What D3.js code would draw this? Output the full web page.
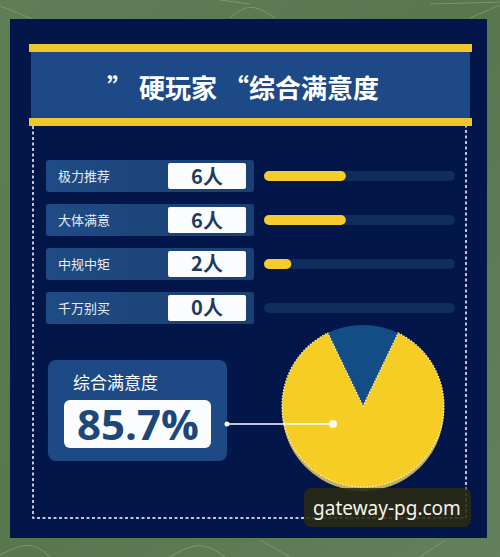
<!DOCTYPE html>
<html>
<head>
<meta charset="utf-8">
<script src="https://cdn.jsdelivr.net/npm/d3@7"></script>
<style>
  html, body { margin: 0; padding: 0; background: #5d7b57; }
  svg { display: block; }
</style>
</head>
<body>
<svg id="chart" width="500" height="557"></svg>
<script>
// data
const categories = ["极力推荐", "大体满意", "中规中矩", "千万别买"];
const counts = [6, 6, 2, 0];
const countUnit = "人";
const totalPeople = 14;
const satisfaction = [85.7, 14.3]; // satisfied / rest
const titleText = "” 硬玩家 “综合满意度";
const summaryLabel = "综合满意度";
const summaryValue = "85.7%";
const watermark = "gateway-pg.com";

const svg = d3.select("#chart");
const W = 500, H = 557;
const cjk = "'Noto Sans CJK SC', 'Noto Sans', sans-serif";

// background texture
const defs = svg.append("defs");
const bgGrad = defs.append("linearGradient").attr("id", "bg").attr("x1", 0).attr("y1", 0).attr("x2", 1).attr("y2", 1);
bgGrad.append("stop").attr("offset", "0%").attr("stop-color", "#5f7d57");
bgGrad.append("stop").attr("offset", "50%").attr("stop-color", "#58774f");
bgGrad.append("stop").attr("offset", "100%").attr("stop-color", "#62805c");
svg.append("rect").attr("width", W).attr("height", H).attr("fill", "url(#bg)");

const bgLines = [
  [[0, 6], [40, 22]], [[220, 0], [250, 4]], [[230, 18], [250, 2], [275, 18]],
  [[430, 4], [500, 2]], [[470, 18], [500, 5]], [[0, 555], [30, 540], [50, 557]],
  [[170, 557], [200, 540], [225, 557]], [[260, 540], [290, 557]], [[420, 557], [445, 540]]
];
svg.append("g")
  .selectAll("path")
  .data(bgLines)
  .join("path")
  .attr("d", d => d3.line().curve(d3.curveBasis)(d))
  .attr("fill", "none")
  .attr("stroke", "#a9b98f")
  .attr("stroke-opacity", 0.45)
  .attr("stroke-width", 1);

// main dark panel
svg.append("rect")
  .attr("x", 10).attr("y", 19).attr("width", 477).attr("height", 519)
  .attr("fill", "#03164a");

// title band
svg.append("rect").attr("x", 29).attr("y", 44).attr("width", 443).attr("height", 8).attr("fill", "#f2c72b");
svg.append("rect").attr("x", 31).attr("y", 52).attr("width", 439).attr("height", 66).attr("fill", "#1d4a86");
svg.append("rect").attr("x", 29).attr("y", 118).attr("width", 443).attr("height", 8).attr("fill", "#f2c72b");
svg.append("text")
  .attr("x", 243).attr("y", 98)
  .attr("text-anchor", "middle")
  .attr("font-family", cjk)
  .attr("font-weight", 700)
  .attr("font-size", 26)
  .attr("fill", "#ffffff")
  .text(titleText);

// dashed frame
svg.append("path")
  .attr("d", "M33,126 V518 H466 V126")
  .attr("fill", "none")
  .attr("stroke", "#ffffff")
  .attr("stroke-width", 1.5)
  .attr("stroke-dasharray", "3,2.5");

// rows
const y = d3.scaleBand().domain(categories).range([160, 324]).paddingInner(0.27);
const x = d3.scaleLinear().domain([0, totalPeople]).range([264, 455]);

const lblGrad = defs.append("linearGradient").attr("id", "lbl");
lblGrad.append("stop").attr("offset", "0%").attr("stop-color", "#1f4b84");
lblGrad.append("stop").attr("offset", "100%").attr("stop-color", "#1a3f73");

const rows = svg.append("g")
  .selectAll("g")
  .data(categories.map((c, i) => ({ name: c, value: counts[i] })))
  .join("g")
  .attr("transform", d => `translate(0,${y(d.name)})`);

const bh = y.bandwidth();

rows.append("rect")
  .attr("x", 46).attr("width", 208).attr("height", bh).attr("rx", 3)
  .attr("fill", "url(#lbl)");

rows.append("text")
  .attr("x", 58).attr("y", bh / 2 + 5)
  .attr("font-family", cjk)
  .attr("font-size", 13)
  .attr("fill", "#e6edf7")
  .text(d => d.name);

rows.append("rect")
  .attr("x", 168).attr("y", 3).attr("width", 78).attr("height", bh - 6).attr("rx", 2)
  .attr("fill", "#fbfcfd");

rows.append("text")
  .attr("x", 207).attr("y", bh / 2 + 7.5)
  .attr("text-anchor", "middle")
  .attr("font-family", cjk)
  .attr("font-weight", 700)
  .attr("font-size", 20)
  .attr("fill", "#1d3a60")
  .text(d => d.value + countUnit);

rows.append("rect")
  .attr("x", x(0)).attr("y", bh / 2 - 5)
  .attr("width", x(totalPeople) - x(0)).attr("height", 10).attr("rx", 5)
  .attr("fill", "#0f2d5d");

rows.filter(d => d.value > 0)
  .append("rect")
  .attr("x", x(0)).attr("y", bh / 2 - 5)
  .attr("width", d => x(d.value) - x(0)).attr("height", 10).attr("rx", 5)
  .attr("fill", "#f5cc2c");

// summary box
svg.append("rect")
  .attr("x", 48).attr("y", 360).attr("width", 179).attr("height", 101).attr("rx", 8)
  .attr("fill", "#1d4a84");
svg.append("text")
  .attr("x", 73).attr("y", 389)
  .attr("font-family", cjk)
  .attr("font-size", 17)
  .attr("fill", "#ffffff")
  .text(summaryLabel);
svg.append("rect")
  .attr("x", 64).attr("y", 400).attr("width", 147).attr("height", 48).attr("rx", 6)
  .attr("fill", "#fbfcfd");
svg.append("text")
  .attr("x", 138).attr("y", 440)
  .attr("text-anchor", "middle")
  .attr("font-family", "'Open Sans', sans-serif")
  .attr("font-weight", 700)
  .attr("font-size", 42)
  .attr("fill", "#1d4778")
  .text(summaryValue);

// pie
const cx = 363, cy = 406, r = 81;
const pie = d3.pie().sort(null).startAngle(-Math.PI * satisfaction[1] / 100).endAngle(2 * Math.PI - Math.PI * satisfaction[1] / 100);
const slices = pie([satisfaction[1], satisfaction[0]]);
const arc = d3.arc().innerRadius(0).outerRadius(r);

const pieG = svg.append("g").attr("transform", `translate(${cx},${cy})`);
// thickness underneath
pieG.append("path")
  .attr("transform", "translate(0,4)")
  .attr("d", arc(slices[1]))
  .attr("fill", "#bfae5c");
pieG.append("path")
  .attr("d", arc(slices[0]))
  .attr("fill", "#134d85");
pieG.append("path")
  .attr("d", arc(slices[1]))
  .attr("fill", "#f6cd25")
  .attr("stroke", "#fff6d0")
  .attr("stroke-width", 1.2)
  .attr("stroke-dasharray", "1.5,1.5");

// leader line
svg.append("line")
  .attr("x1", 227).attr("y1", 424).attr("x2", 333).attr("y2", 424)
  .attr("stroke", "#ffffff").attr("stroke-width", 1.5);
svg.append("circle").attr("cx", 227).attr("cy", 424).attr("r", 2.5).attr("fill", "#ffffff");
svg.append("circle").attr("cx", 333).attr("cy", 424).attr("r", 4).attr("fill", "#fffbe8");

// watermark
svg.append("rect")
  .attr("x", 304).attr("y", 488).attr("width", 167).attr("height", 39).attr("rx", 7)
  .attr("fill", "#2a2a12").attr("fill-opacity", 0.88);
svg.append("text")
  .attr("x", 387).attr("y", 515)
  .attr("text-anchor", "middle")
  .attr("font-family", "'Noto Sans', sans-serif")
  .attr("font-size", 19)
  .attr("fill", "#f4f4ee")
  .text(watermark);
</script>
</body>
</html>
